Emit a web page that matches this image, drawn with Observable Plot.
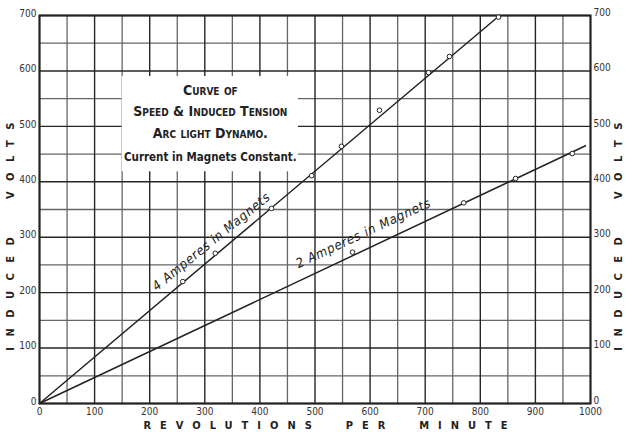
<!DOCTYPE html>
<html><head><meta charset="utf-8">
<script src="https://cdn.jsdelivr.net/npm/d3@7"></script>
<script src="https://cdn.jsdelivr.net/npm/@observablehq/plot@0.6"></script>
<style>body{margin:0;background:#fff}</style>
</head><body><div id="chart"></div>
<script>
// ---- data ----
const rpmTicks = [0,100,200,300,400,500,600,700,800,900,1000];
const voltTicks = [0,100,200,300,400,500,600,700];
const minorRpm = [50,150,250,350,450,550,650,750,850,950];
const minorVolts = [50,150,250,350,450,550,650];

const amp4Rpm   = [260,319,421,494,548,617,706,744,833];
const amp4Volts = [220,271,352,411,464,529,597,626,697];
const amp2Rpm   = [568,770,864,967];
const amp2Volts = [273,362,406,451];

const amp4LineRpm = [0,835], amp4LineVolts = [0,700];
const amp2LineRpm = [0,991], amp2LineVolts = [0,465];

const titleLines = ["Curve of","Speed & Induced Tension","Arc light Dynamo."];
const titleVolts = [565,527,487];
const titleRpm = [310,310,310];
const subtitleLine = ["Current in Magnets Constant."];
const subtitleVolts = [444];
const subtitleRpm = [310];

const seriesLabels = ["4 Amperes in Magnets","2 Amperes in Magnets"];
const labelRpm = [312,588];
const labelVolts = [292,307];
const labelAngle = [-39,-25];

const boxRpm = [150,470];
const boxVolts = [418,590];

const xTitle = "REVOLUTIONS\u00a0\u00a0PER\u00a0\u00a0MINUTE";
const yTitle = "INDUCED\u00a0\u00a0VOLTS";

const ink = "#222";
const font = "DejaVu Sans Condensed, DejaVu Sans, sans-serif";

const chart = Plot.plot({
  width: 626, height: 437,
  marginLeft: 39, marginRight: 36, marginTop: 15, marginBottom: 34,
  x: {domain: [0,1000]},
  y: {domain: [0,700]},
  style: {fontFamily: font, fontSize: "10px", color: "#333", background: "#fff"},
  marks: [
    Plot.ruleX(minorRpm, {stroke: "#666", strokeWidth: 1.3}),
    Plot.ruleY(minorVolts, {stroke: "#666", strokeWidth: 1.3}),
    Plot.ruleX(rpmTicks, {stroke: "#262626", strokeWidth: 1.4}),
    Plot.ruleY(voltTicks, {stroke: "#262626", strokeWidth: 1.4}),
    Plot.rect([0], {x1: () => boxRpm[0], x2: () => boxRpm[1], y1: () => boxVolts[0], y2: () => boxVolts[1], fill: "#fff"}),
    Plot.frame({stroke: ink, strokeWidth: 2}),
    Plot.axisX({ticks: rpmTicks, tickSize: 0, tickPadding: 4, fontSize: 10, tickFormat: d => String(d), label: null}),
    Plot.axisY({anchor: "left", ticks: voltTicks, tickSize: 0, tickPadding: 3, dy: -2, fontSize: 10, tickFormat: d => String(d), label: null}),
    Plot.axisY({anchor: "right", ticks: voltTicks, tickSize: 0, tickPadding: 3, dy: -3, fontSize: 10, tickFormat: d => String(d), label: null}),
    Plot.line(amp4LineRpm, {x: amp4LineRpm, y: amp4LineVolts, stroke: ink, strokeWidth: 1.5}),
    Plot.line(amp2LineRpm, {x: amp2LineRpm, y: amp2LineVolts, stroke: ink, strokeWidth: 1.5}),
    Plot.dot(amp4Rpm, {x: amp4Rpm, y: amp4Volts, r: 2.3, stroke: ink, fill: "#fff", strokeWidth: 1}),
    Plot.dot(amp2Rpm, {x: amp2Rpm, y: amp2Volts, r: 2.3, stroke: ink, fill: "#fff", strokeWidth: 1}),
    Plot.text(titleLines, {x: titleRpm, y: titleVolts, text: d => d, fontSize: 14, fontWeight: "bold", fontVariant: "small-caps", fill: ink}),
    Plot.text(subtitleLine, {x: subtitleRpm, y: subtitleVolts, text: d => d, fontSize: 11.5, fontWeight: "bold", fill: ink}),
    Plot.text(seriesLabels, {x: labelRpm, y: labelVolts, text: d => d, rotate: (d,i) => labelAngle[i], fontSize: 13, fontStyle: "italic", fill: ink}),
    Plot.text([xTitle], {frameAnchor: "bottom", dy: 25, dx: 15, text: d => d, fontSize: 11, fontWeight: "bold", fill: ink}),
    Plot.text([yTitle], {frameAnchor: "left", textAnchor: "middle", dx: -29, dy: 22, rotate: -90, text: d => d, fontSize: 11, fontWeight: "bold", fill: ink}),
    Plot.text([yTitle], {frameAnchor: "right", textAnchor: "middle", dx: 28, dy: 22, rotate: -90, text: d => d, fontSize: 11, fontWeight: "bold", fill: ink})
  ]
});
d3.select(chart).selectAll("text").each(function() {
  const t = this.textContent;
  if (t === xTitle) d3.select(this).attr("letter-spacing", "9px");
  else if (t === yTitle) d3.select(this).attr("letter-spacing", "10.5px");
  else if (seriesLabels.includes(t)) d3.select(this).attr("letter-spacing", "0.8px");
});
document.getElementById("chart").appendChild(chart);
</script>
</body></html>
